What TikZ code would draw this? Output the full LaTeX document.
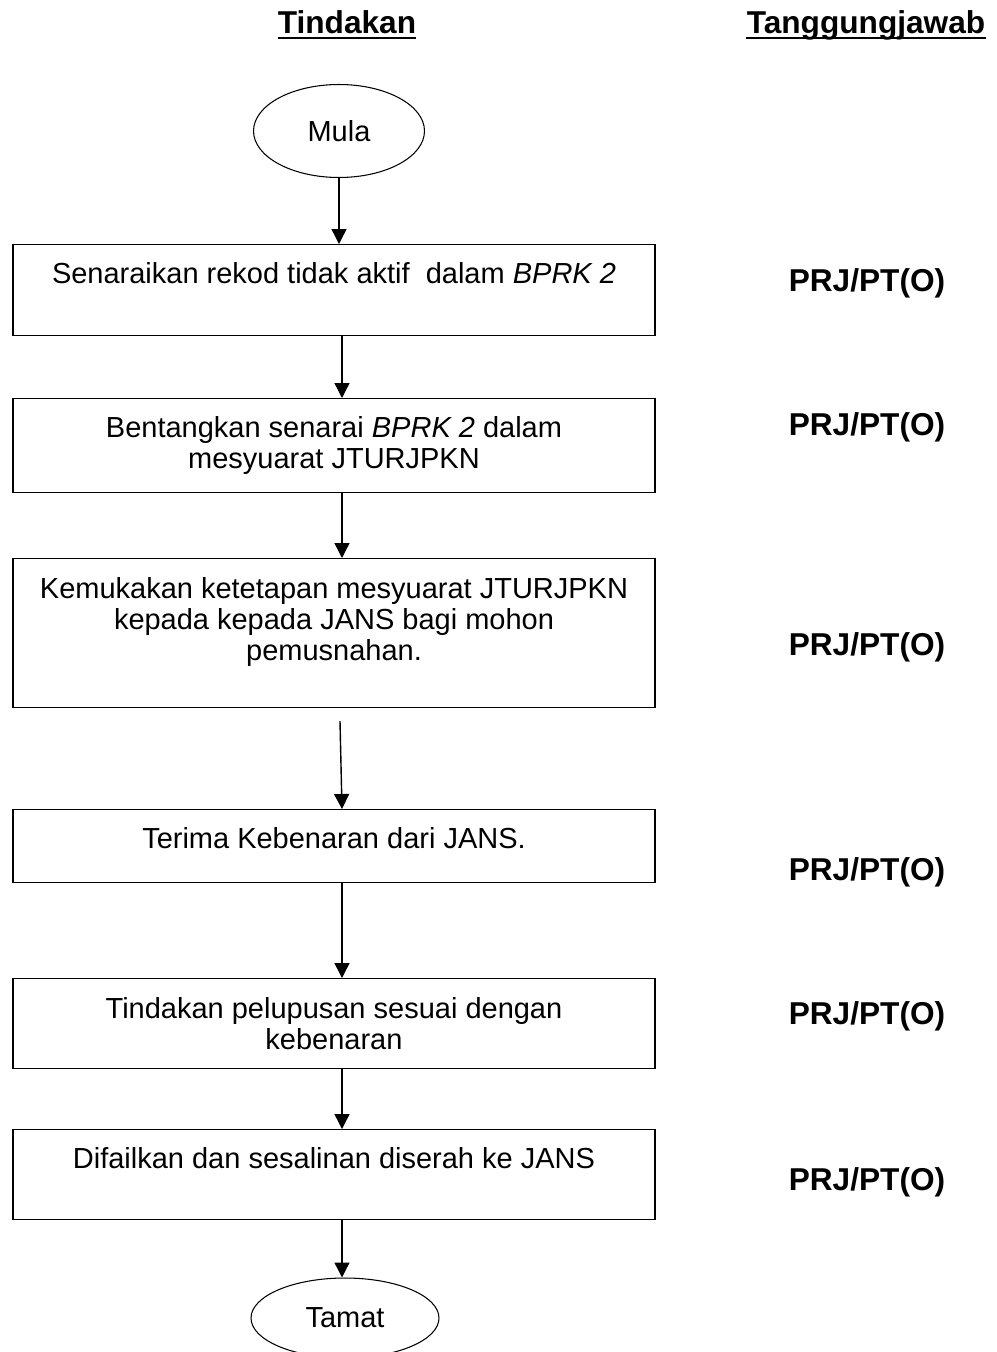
\documentclass[tikz,border=0pt]{standalone}
\usepackage{fontspec}
\setmainfont{Liberation Sans}
\usetikzlibrary{arrows.meta,shapes.geometric}

\newcommand{\stepFont}{\fontsize{16.5}{17.6}\selectfont}
\newcommand{\headFont}{\fontsize{18}{21}\selectfont\bfseries}

\tikzset{
    flow/.style={line width=0.8pt, -{Triangle[length=0.3cm,width=0.3cm]}},
    stepbox/.style={draw, line width=0.7pt, anchor=north, minimum width=12.84cm, inner sep=0pt},
    steptext/.style={anchor=north, align=center, inner sep=0pt, font=\stepFont},
    terminal/.style={draw, ellipse, line width=0.6pt, inner sep=0pt, font=\stepFont},
    role/.style={inner sep=0pt, font=\headFont},
    heading/.style={role, anchor=base},
    headline/.style={line width=1.3pt},
}

\begin{document}
\begin{tikzpicture}[x=0.02cm, y=-0.02cm]
    \useasboundingbox (0,0) rectangle (997,1352);

    % Column headings
    \node[heading] (hAction) at (347,33) {Tindakan};
    \node[heading] (hRole) at (866,33) {Tanggungjawab};
    \foreach \h in {hAction, hRole}
        \draw[headline] ([yshift=-2.8pt]\h.base west) -- ([yshift=-2.8pt]\h.base east);

    % Start and end
    \node[terminal, minimum width=3.42cm, minimum height=1.86cm] (mula) at (339,131) {Mula};
    \node[terminal, minimum width=3.76cm, minimum height=1.6cm] (tamat) at (345,1318) {Tamat};

    % Process boxes
    \node[stepbox, minimum height=1.82cm] (b1) at (334,244) {};
    \node[stepbox, minimum height=1.88cm] (b2) at (334,398) {};
    \node[stepbox, minimum height=2.98cm] (b3) at (334,558) {};
    \node[stepbox, minimum height=1.46cm] (b4) at (334,809) {};
    \node[stepbox, minimum height=1.80cm] (b5) at (334,978) {};
    \node[stepbox, minimum height=1.80cm] (b6) at (334,1129) {};

    % Box texts
    \node[steptext] (t1) at (334,262) {Senaraikan rekod tidak aktif\ \ dalam \textit{BPRK 2}};
    \node[steptext] (t2) at (334,416) {Bentangkan senarai \textit{BPRK 2} dalam\\mesyuarat JTURJPKN};
    \node[steptext] (t3) at (334,577) {Kemukakan ketetapan mesyuarat JTURJPKN\\kepada kepada JANS bagi mohon\\pemusnahan.};
    \node[steptext] (t4) at (334,827) {Terima Kebenaran dari JANS.};
    \node[steptext] (t5) at (334,997) {Tindakan pelupusan sesuai dengan\\kebenaran};
    \node[steptext] (t6) at (334,1147) {Difailkan dan sesalinan diserah ke JANS};

    % Responsibility column
    \foreach \y [count=\i] in {283,427,647,872,1016,1182}
        \node[role] (r\i) at (867,\y) {PRJ/PT(O)};

    % Connectors
    \coordinate (axis) at (342,0);
    \draw[flow] (mula) -- (mula.south |- b1.north);
    \foreach \a/\b in {b1/b2, b2/b3, b4/b5, b5/b6}
        \draw[flow] (\a.south -| axis) -- (\b.north -| axis);
    \draw[flow] ([shift={(-2,13)}]b3.south -| axis) -- (b4.north -| axis);
    \draw[flow] (b6.south -| axis) -- (tamat.north -| axis);

\end{tikzpicture}
\end{document}
